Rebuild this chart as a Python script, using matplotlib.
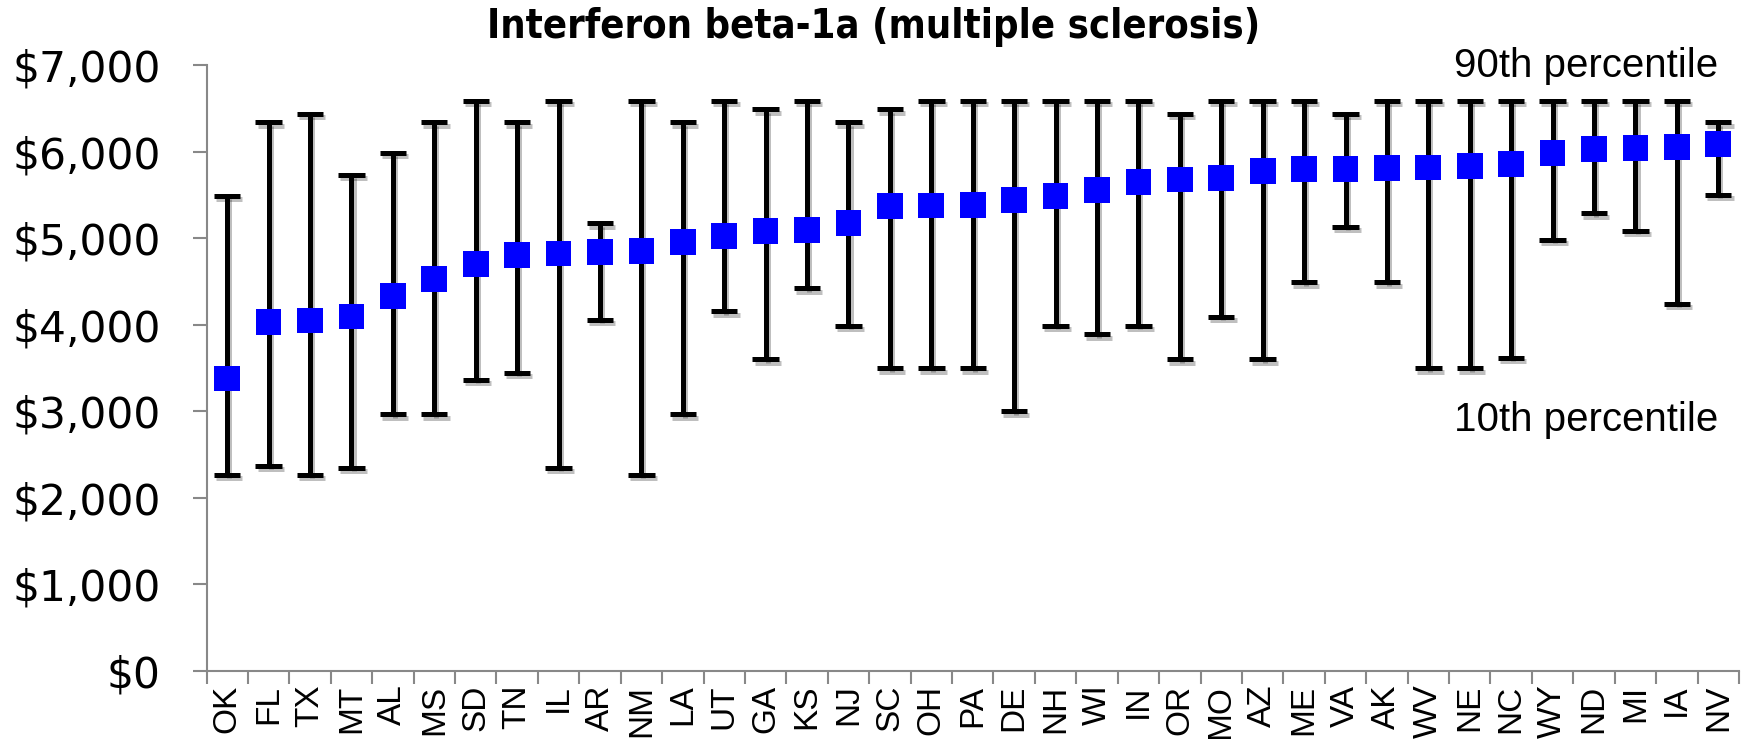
import numpy as np
import matplotlib
matplotlib.use("Agg")
import matplotlib.pyplot as plt
import matplotlib.patheffects as pe


# values
states = ["OK", "FL", "TX", "MT", "AL", "MS", "SD", "TN", "IL", "AR", "NM", "LA",
          "UT", "GA", "KS", "NJ", "SC", "OH", "PA", "DE", "NH", "WI", "IN", "OR",
          "MO", "AZ", "ME", "VA", "AK", "WV", "NE", "NC", "WY", "ND", "MI", "IA", "NV"]
median = [3380, 4030, 4050, 4095, 4330, 4530, 4700, 4805, 4825, 4845, 4850, 4955,
          5025, 5085, 5095, 5180, 5370, 5380, 5385, 5445, 5490, 5555, 5655, 5680,
          5695, 5775, 5800, 5805, 5815, 5820, 5835, 5860, 5990, 6030, 6045, 6055, 6090]
p90 = [5490, 6340, 6440, 5735, 5990, 6340, 6590, 6340, 6590, 5175, 6590, 6340,
       6590, 6490, 6590, 6340, 6490, 6590, 6590, 6590, 6590, 6590, 6590, 6440,
       6590, 6590, 6590, 6440, 6590, 6590, 6590, 6590, 6590, 6590, 6590, 6590, 6340]
p10 = [2265, 2370, 2265, 2345, 2965, 2965, 3365, 3445, 2345, 4060, 2265, 2965,
       4155, 3600, 4420, 3990, 3495, 3495, 3495, 3000, 3990, 3890, 3990, 3600,
       4095, 3600, 4490, 5135, 4490, 3495, 3495, 3620, 4985, 5290, 5085, 4245, 5505]
yticks = [0, 1000, 2000, 3000, 4000, 5000, 6000, 7000]
ytick_labels = ["$0", "$1,000", "$2,000", "$3,000", "$4,000", "$5,000", "$6,000", "$7,000"]


def main():
    x = np.arange(len(states))
    med = np.array(median)
    lo = med - np.array(p10)
    hi = np.array(p90) - med

    fig = plt.figure(figsize=(17.5, 7.39), dpi=100)
    ax = fig.add_axes([0.118, 0.0923, 0.8757, 0.8193])

    # soft drop shadow like the original
    shadow = [pe.SimpleLineShadow(offset=(1.5, -2.5), alpha=0.25, shadow_color="black"), pe.Normal()]

    eb = ax.errorbar(x, med, yerr=[lo, hi], fmt="none", ecolor="black",
                     elinewidth=3.6, capsize=9.5, capthick=3.6, zorder=2)
    for cap in eb[1]:
        cap.set_path_effects(shadow)
    for col in eb[2]:
        col.set_path_effects(shadow)

    ax.plot(x, med, linestyle="none", marker="s", markersize=18.5,
            color="#0000ff", markeredgewidth=0, zorder=3,
            path_effects=shadow)

    ax.set_xlim(-0.5, len(states) - 0.5)
    ax.set_ylim(0, 7000)

    ax.spines["top"].set_visible(False)
    ax.spines["right"].set_visible(False)
    for s in ["left", "bottom"]:
        ax.spines[s].set_color("#888888")
        ax.spines[s].set_linewidth(1.5)

    ax.set_yticks(yticks)
    ax.set_yticklabels(ytick_labels, fontsize=30.5, family="DejaVu Sans")
    ax.tick_params(axis="y", length=10, width=1.5, color="#888888", pad=23)

    ax.set_xticks(x)
    ax.set_xticklabels(states, rotation=90, fontsize=24, family="Liberation Sans")
    ax.tick_params(axis="x", which="major", length=0, pad=10)
    ax.set_xticks(np.arange(-0.5, len(states)), minor=True)
    ax.tick_params(axis="x", which="minor", length=9, width=1.5, color="#888888")

    fig.text(0.499, 1 - 27 / 739, "Interferon beta-1a (multiple sclerosis)",
             ha="center", va="center", fontsize=28.6, fontweight="bold",
             fontstretch="condensed", family="DejaVu Sans")
    fig.text(0.982, 1 - 66 / 739, "90th percentile", ha="right", va="center",
             fontsize=29, family="Liberation Sans")
    fig.text(0.982, 1 - 420 / 739, "10th percentile", ha="right", va="center",
             fontsize=29, family="Liberation Sans")

    fig.savefig("out.png", dpi=100)


if __name__ == '__main__':
    main()
